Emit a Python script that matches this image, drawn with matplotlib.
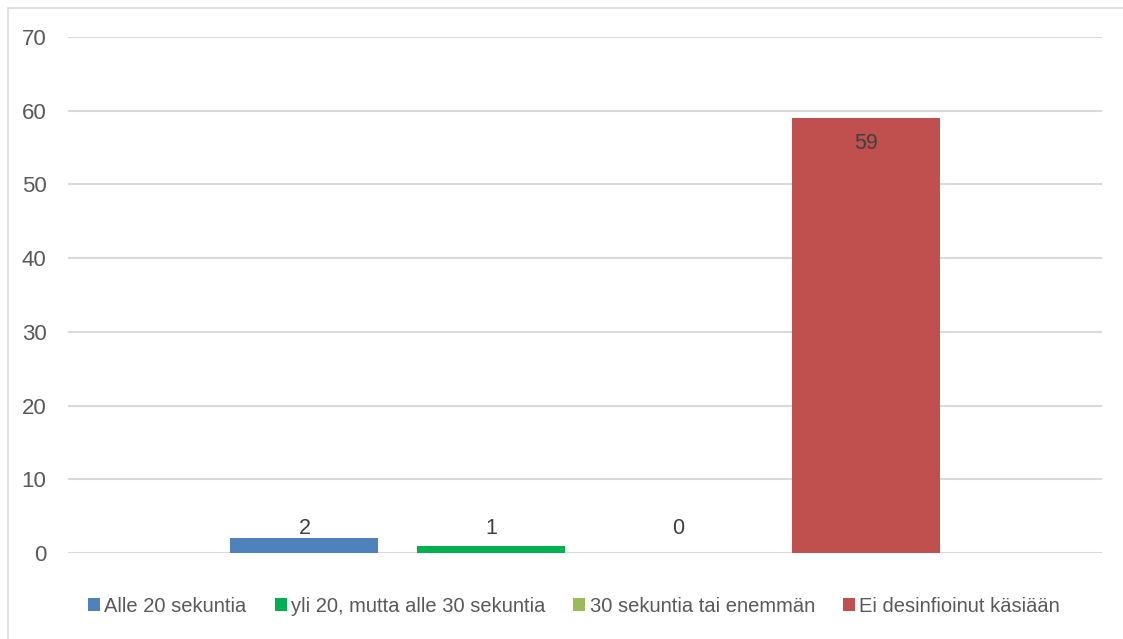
import matplotlib

matplotlib.use("Agg")
import matplotlib.pyplot as plt
from matplotlib.patches import Rectangle

series = [
    "Alle 20 sekuntia",
    "yli 20, mutta alle 30 sekuntia",
    "30 sekuntia tai enemmän",
    "Ei desinfioinut käsiään",
]
values = [2, 1, 0, 59]
colors = ["#4F81BD", "#00B050", "#9BBB59", "#C0504D"]
yticks = [0, 10, 20, 30, 40, 50, 60, 70]

TEXT = "#595959"
GRID = "#D9D9D9"

plt.rcParams["font.family"] = ["Liberation Sans Narrow", "Liberation Sans", "DejaVu Sans"]
plt.rcParams["font.size"] = 16

fig = plt.figure(figsize=(11.23, 6.39), dpi=100)
fig.patches.append(
    Rectangle((8 / 1123, -0.1), 1.2, 1 - 8 / 639 + 0.1, transform=fig.transFigure,
              fill=False, edgecolor=GRID, linewidth=1.2)
)
ax = fig.add_axes([68 / 1123, 1 - 553 / 639, 1034 / 1123, 516 / 639])

step = 0.1809
width = 0.1431
n = len(values)
for i, (name, v, c) in enumerate(zip(series, values, colors)):
    x = 0.5 + (i - (n - 1) / 2) * step
    ax.bar(x, v, width=width, color=c, label=name, zorder=2)
    # inside-end label, pushed above the baseline for short bars
    ly = max(v - 3.5, 3.3)
    ax.text(x, ly, str(v), ha="center", va="center", color="#404040", fontsize=15.5, zorder=3)

ax.set_xlim(0, 1)
ax.set_ylim(0, 70)
ax.set_yticks(yticks)
ax.set_xticks([])
ax.yaxis.grid(True, color=GRID, linewidth=1.5)
ax.set_axisbelow(True)
for s in ax.spines.values():
    s.set_visible(False)
ax.tick_params(axis="y", length=0, pad=15.5, labelcolor=TEXT, labelsize=16)

handles, labels = ax.get_legend_handles_labels()
fig.legend(handles, labels, loc="center", bbox_to_anchor=(574 / 1123, 1 - 606 / 639),
           ncol=4, frameon=False, handlelength=0.6, handleheight=0.6,
           handletextpad=0.2, columnspacing=1.4, labelcolor=TEXT, fontsize=14.5)

fig.savefig("out.png", dpi=100)
